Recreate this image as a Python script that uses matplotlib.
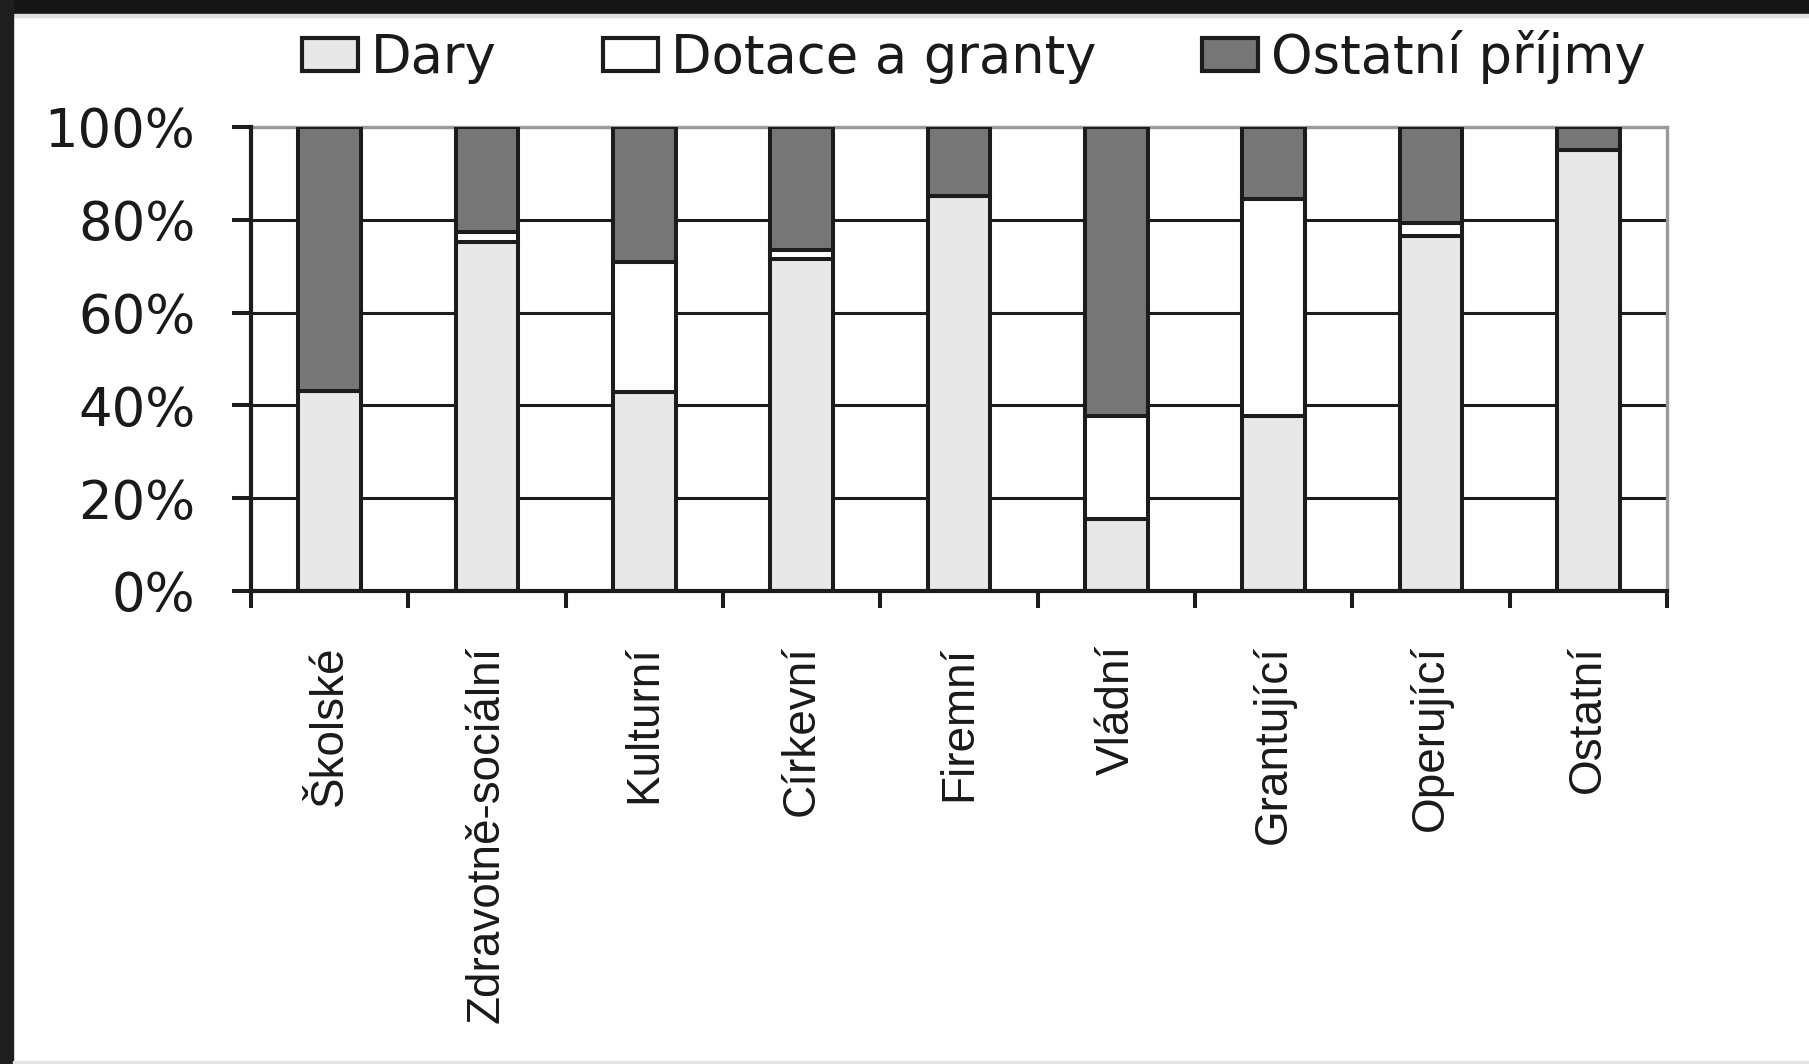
import matplotlib
matplotlib.use("Agg")
import matplotlib.pyplot as plt
from matplotlib.patches import Rectangle, Patch
import numpy as np

categories = ["Školské", "Zdravotně-sociální", "Kulturní", "Církevní", "Firemní",
              "Vládní", "Grantující", "Operující", "Ostatní"]
dary = [43.0, 75.3, 42.8, 71.5, 85.2, 15.5, 37.7, 76.6, 95.0]
dotace = [0.0, 2.1, 28.1, 2.0, 0.0, 22.2, 46.8, 2.7, 0.0]
ostatni = [57.0, 22.6, 29.1, 26.5, 14.8, 62.3, 15.5, 20.7, 5.0]
series_names = ["Dary", "Dotace a granty", "Ostatní příjmy"]
ytick_labels = ["0%", "20%", "40%", "60%", "80%", "100%"]

col_dary = "#e8e8e8"
col_dot = "#ffffff"
col_ost = "#767676"
edge = "#1c1c1c"
txt = "#1a1a1a"

W, H = 1809, 1064
fig = plt.figure(figsize=(W / 100, H / 100), dpi=100)
fig.patch.set_facecolor("white")

# image frame
fig.patches.append(Rectangle((0, 1 - 14 / H), 1, 14 / H, transform=fig.transFigure,
                             color="#161616", zorder=0))
fig.patches.append(Rectangle((0, 1 - 17 / H), 1, 3 / H, transform=fig.transFigure,
                             color="#e2e2e2", zorder=0))
fig.patches.append(Rectangle((0, 0), 13 / W, 1, transform=fig.transFigure,
                             color="#1e1e1e", zorder=0))
fig.patches.append(Rectangle((13 / W, 0), 1, 3 / H, transform=fig.transFigure,
                             color="#e2e2e2", zorder=0))

ax = fig.add_axes([251 / W, 1 - 591 / H, (1667 - 251) / W, (591 - 127) / H])

x = np.arange(len(categories))
bw = 0.4
lw = 2.9
ax.bar(x, dary, bw, color=col_dary, edgecolor=edge, linewidth=lw, zorder=3)
ax.bar(x, dotace, bw, bottom=dary, color=col_dot, edgecolor=edge, linewidth=lw, zorder=3)
bottom3 = [a + b for a, b in zip(dary, dotace)]
ax.bar(x, ostatni, bw, bottom=bottom3, color=col_ost, edgecolor=edge, linewidth=lw, zorder=3)

ax.set_xlim(-0.5, len(categories) - 0.5)
ax.set_ylim(0, 100)
ax.set_yticks([0, 20, 40, 60, 80, 100])
ax.set_yticklabels(ytick_labels)
ax.yaxis.grid(True, color=edge, linewidth=2.2)
ax.set_axisbelow(True)

ax.set_xticks(x)
ax.set_xticklabels(categories, rotation=90, fontfamily=["Liberation Sans", "DejaVu Sans"],
                   fontsize=33, color=txt)
ax.tick_params(axis="x", which="major", length=0, pad=39)
ax.set_xticks(np.arange(-0.5, len(categories)), minor=True)
ax.tick_params(axis="x", which="minor", length=12, width=2.9, color=edge, direction="out")

for lab in ax.get_yticklabels():
    lab.set_fontfamily("DejaVu Sans")
    lab.set_fontsize(38)
    lab.set_color(txt)
ax.tick_params(axis="y", length=14, width=2.9, color=edge, pad=26, direction="out")

for s in ["left", "bottom"]:
    ax.spines[s].set_color(edge)
    ax.spines[s].set_linewidth(3.0)
    ax.spines[s].set_zorder(4)
for s in ["top", "right"]:
    ax.spines[s].set_color("#9a9a9a")
    ax.spines[s].set_linewidth(2.4)
    ax.spines[s].set_zorder(1)

handles = [Patch(facecolor=col_dary, edgecolor=edge, linewidth=3.0),
           Patch(facecolor=col_dot, edgecolor=edge, linewidth=3.0),
           Patch(facecolor=col_ost, edgecolor=edge, linewidth=3.0)]
leg = fig.legend(handles, series_names, loc="center", bbox_to_anchor=(974 / W, 1 - 57 / H),
                 ncol=3, frameon=False, handlelength=1.05, handleheight=0.6,
                 handletextpad=0.25, columnspacing=2.0, borderpad=0,
                 prop={"family": "DejaVu Sans", "size": 38})
for t in leg.get_texts():
    t.set_color(txt)

fig.savefig("out.png", dpi=100, facecolor=fig.get_facecolor())
